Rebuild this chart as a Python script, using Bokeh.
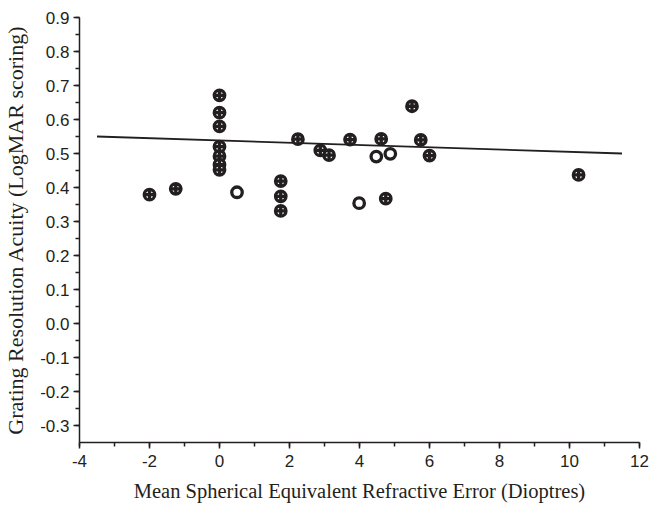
from bokeh.plotting import figure
from bokeh.models import SingleIntervalTicker, NumeralTickFormatter, Range1d
from bokeh.embed import file_html
from bokeh.resources import INLINE

# Points drawn with error-bar marks inside
err_x = [-2.0, -1.25, 0.0, 0.0, 0.0, 0.0, 0.0, 0.0, 0.0, 1.75, 1.75, 1.75,
         2.24, 2.88, 3.13, 3.73, 4.62, 4.75, 5.5, 5.75, 6.0, 10.26]
err_y = [0.379, 0.396, 0.671, 0.62, 0.58, 0.52, 0.492, 0.467, 0.452, 0.419, 0.374, 0.331,
         0.542, 0.509, 0.495, 0.541, 0.543, 0.367, 0.639, 0.540, 0.494, 0.437]
# Plain (hollow) points
plain_x = [0.5, 3.99, 4.48, 4.88]
plain_y = [0.386, 0.354, 0.491, 0.499]
# Regression line end points
fit_x = [-3.5, 11.5]
fit_y = [0.55, 0.50]

INK = "#231f20"

p = figure(width=650, height=506, frame_width=560, frame_height=425,
           min_border_left=79, min_border_right=11, min_border_top=17, min_border_bottom=64,
           output_backend="svg", toolbar_location=None,
           x_range=Range1d(-4, 12), y_range=Range1d(-0.35, 0.9))
p.outline_line_color = None
p.xgrid.visible = False
p.ygrid.visible = False
p.background_fill_color = "white"
p.border_fill_color = "white"

p.line(fit_x, fit_y, line_color=INK, line_width=1.8)

p.scatter(x=plain_x, y=plain_y, marker="circle", size=10.5, line_width=3.3,
          line_color=INK, fill_color="white")
p.scatter(x=err_x, y=err_y, marker="circle_cross", size=10.5, line_width=3.3,
          line_color=INK, fill_color="white")

p.xaxis.ticker = SingleIntervalTicker(interval=2, num_minor_ticks=2)
p.yaxis.ticker = SingleIntervalTicker(interval=0.1, num_minor_ticks=2)
p.xaxis.formatter = NumeralTickFormatter(format="0")
p.yaxis.formatter = NumeralTickFormatter(format="0.0")

for ax in (p.xaxis[0], p.yaxis[0]):
    ax.axis_line_color = INK
    ax.axis_line_width = 1.5
    ax.major_tick_line_color = INK
    ax.minor_tick_line_color = INK
    ax.major_tick_line_width = 1.5
    ax.minor_tick_line_width = 1.5
    ax.major_tick_out = 6
    ax.major_tick_in = 0
    ax.minor_tick_out = 4
    ax.minor_tick_in = 0
    ax.major_label_text_font = "Liberation Sans"
    ax.major_label_text_font_size = "17px"
    ax.major_label_text_color = INK
    ax.axis_label_text_font = "Liberation Serif"
    ax.axis_label_text_font_style = "normal"
    ax.axis_label_text_color = INK

p.xaxis.axis_label = "Mean Spherical Equivalent Refractive Error (Dioptres)"
p.yaxis.axis_label = "Grating Resolution Acuity (LogMAR scoring)"
p.xaxis.axis_label_text_font_size = "20.5px"
p.yaxis.axis_label_text_font_size = "22px"
p.xaxis.major_label_standoff = 6
p.yaxis.major_label_standoff = 4
p.xaxis.axis_label_standoff = 10
p.yaxis.axis_label_standoff = 9

open("out.html", "w").write(file_html(p, INLINE))
